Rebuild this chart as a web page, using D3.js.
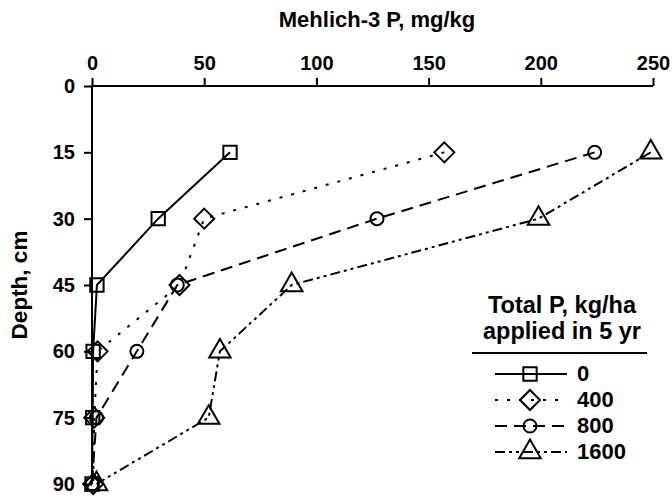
<!DOCTYPE html>
<html lang="en">
<head>
<meta charset="UTF-8">
<script src="https://d3js.org/d3.v7.min.js"></script>
<style>
    body { margin: 0; background: #fff; }
    text { font-family: "Liberation Sans", Arial, sans-serif; font-weight: bold; fill: #000; }
</style>
</head>
<body>
<svg id="chart" width="672" height="498"></svg>
<script>
// Datos
const depths = [15, 30, 45, 60, 75, 90];
const rates = ["0", "400", "800", "1600"];
const p0 = [61.5, 29.5, 2.2, 0.5, 0.3, 0];
const p400 = [157, 50, 39, 2.5, 1, 0.5];
const p800 = [224, 127, 38, 20, 2, 0];
const p1600 = [249, 199, 89, 57, 52, 2];
const xTicks = [0, 50, 100, 150, 200, 250];
const yTicks = [0, 15, 30, 45, 60, 75, 90];

const series = [
    { name: rates[0], values: p0, dash: null, symbol: "square" },
    { name: rates[1], values: p400, dash: "3,9", symbol: "diamond" },
    { name: rates[2], values: p800, dash: "12,7", symbol: "circle" },
    { name: rates[3], values: p1600, dash: "10,4,3,4,3,4", symbol: "triangle" }
];

const svg = d3.select("#chart");
const x = d3.scaleLinear().domain([0, 250]).range([92, 653]);
const y = d3.scaleLinear().domain([0, 90]).range([86, 484]);

// Ejes
const xAxis = svg.append("g")
    .attr("transform", "translate(0,86)")
    .call(d3.axisTop(x).tickValues(xTicks).tickSize(8).tickPadding(8));
const yAxis = svg.append("g")
    .attr("transform", "translate(92,0)")
    .call(d3.axisLeft(y).tickValues(yTicks).tickSize(8).tickPadding(9));
[xAxis, yAxis].forEach(a => {
    a.selectAll("path, line").attr("stroke", "#000").attr("stroke-width", 2);
    a.select(".domain").attr("d", a === xAxis ? "M92,0H653" : "M0,86V484");
    a.selectAll("text").style("font-size", "20px").style("font-weight", "bold");
});

svg.append("text").attr("x", 377).attr("y", 27).attr("text-anchor", "middle")
    .style("font-size", "22px").text("Mehlich-3 P, mg/kg");
svg.append("text").attr("transform", "translate(27,285) rotate(-90)").attr("text-anchor", "middle")
    .style("font-size", "22.5px").text("Depth, cm");

function symbolPath(s) {
    if (s === "diamond") return "M0,-10L10,0L0,10L-10,0Z";
    if (s === "square") return d3.symbol(d3.symbolSquare, 178)();
    if (s === "circle") return d3.symbol(d3.symbolCircle, 133)();
    return d3.symbol(d3.symbolTriangle, 200)();
}

// Líneas y marcadores
const line = d3.line().x(d => x(d[0])).y(d => y(d[1]));
series.forEach(s => {
    const pts = s.values.map((v, i) => [v, depths[i]]);
    svg.append("path").datum(pts)
        .attr("d", line)
        .attr("fill", "none").attr("stroke", "#000").attr("stroke-width", 2)
        .attr("stroke-dasharray", s.dash);
    svg.append("g").selectAll("path").data(pts).join("path")
        .attr("transform", d => `translate(${x(d[0])},${y(d[1])})`)
        .attr("d", symbolPath(s.symbol))
        .attr("fill", "none").attr("stroke", "#000").attr("stroke-width", 2);
});

// Leyenda
const lg = svg.append("g");
lg.append("text").attr("x", 562).attr("y", 313).attr("text-anchor", "middle").style("font-size", "23.5px").text("Total P, kg/ha");
lg.append("text").attr("x", 562).attr("y", 339).attr("text-anchor", "middle").style("font-size", "23.5px").text("applied in 5 yr");
lg.append("line").attr("x1", 472).attr("x2", 647).attr("y1", 353).attr("y2", 353).attr("stroke", "#000").attr("stroke-width", 2);
series.forEach((s, i) => {
    const yy = 374 + i * 26;
    lg.append("line").attr("x1", 495).attr("x2", 567).attr("y1", yy).attr("y2", yy)
        .attr("stroke", "#000").attr("stroke-width", 2).attr("stroke-dasharray", s.dash);
    lg.append("path").attr("transform", `translate(530,${yy})`).attr("d", symbolPath(s.symbol))
        .attr("fill", "none").attr("stroke", "#000").attr("stroke-width", 2);
    lg.append("text").attr("x", 577).attr("y", yy + 7).style("font-size", "22px").text(s.name);
});
</script>
</body>
</html>
